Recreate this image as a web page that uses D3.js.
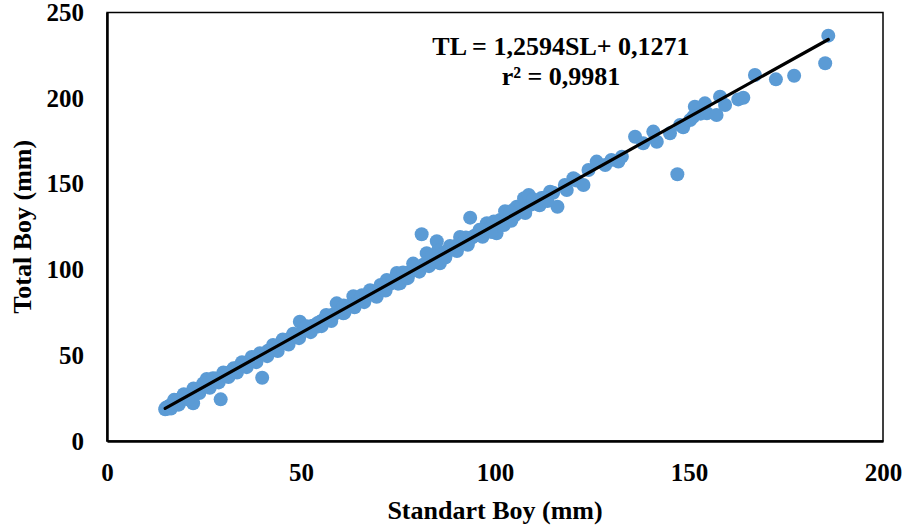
<!DOCTYPE html>
<html>
<head>
<meta charset="utf-8">
<script src="https://cdn.jsdelivr.net/npm/d3@7"></script>
<style>
  html, body { margin: 0; padding: 0; background: #fff; }
  svg text { font-family: "Liberation Serif", "Times New Roman", serif; font-weight: bold; fill: #000; }
</style>
</head>
<body>
<div id="graph"></div>
<script>
// Standart boy (SL, mm) of each fish
const standardLength = [
  15.0, 15.2, 15.5, 15.8, 16.0, 16.3, 16.6, 17.0, 17.2, 17.5,
  17.8, 18.0, 18.4, 18.8, 19.2, 19.6, 20.0, 20.5, 21.0, 21.4,
  22.2, 22.0, 22.6, 23.0, 23.5, 24.0, 24.5, 25.0, 25.7, 26.2,
  26.8, 27.5, 28.3, 28.0, 29.3, 29.0, 29.8, 30.5, 31.0, 31.6,
  32.2, 32.6, 33.2, 33.8, 34.4, 35.0, 35.6, 36.2, 36.9, 37.5,
  38.2, 38.8, 39.4, 40.0, 40.3, 41.0, 41.6, 42.3, 43.0, 43.7,
  44.4, 45.0, 45.7, 46.3, 47.0, 47.6, 48.3, 49.0, 49.7, 50.0,
  50.6, 51.2, 51.8, 52.4, 53.0, 53.6, 54.0, 54.3, 55.0, 55.6,
  56.2, 56.8, 57.4, 58.0, 58.6, 59.2, 59.8, 60.5, 60.9, 61.5,
  62.2, 62.8, 63.5, 64.0, 64.7, 65.3, 66.0, 66.6, 67.2, 67.8,
  68.4, 69.0, 69.5, 70.2, 70.8, 71.4, 72.1, 72.6, 73.2, 73.8,
  74.4, 74.7, 75.5, 76.0, 76.6, 77.2, 77.8, 78.4, 78.9, 79.5,
  80.1, 80.7, 81.1, 81.5, 82.0, 82.4, 82.8, 83.4, 84.0, 84.5,
  85.0, 85.3, 85.8, 86.3, 86.9, 87.5, 88.1, 88.7, 89.3, 89.9,
  90.5, 91.0, 91.6, 92.2, 92.8, 93.6, 93.4, 94.0, 94.6, 95.2,
  95.8, 96.4, 97.0, 97.9, 98.2, 98.7, 99.3, 100.0, 100.4, 100.8,
  101.3, 101.9, 102.6, 103.2, 103.8, 104.7, 105.2, 105.6, 106.2, 106.9,
  107.5, 108.0, 108.7, 109.3, 110.0, 110.5, 111.2, 112.0, 112.8, 114.2,
  115.0, 116.1, 118.0, 118.5, 120.2, 121.0, 122.8, 124.1, 126.2, 128.4,
  130.0, 131.8, 132.7, 136.1, 138.2, 140.8, 141.7, 145.1, 147.0, 147.7,
  148.5, 150.3, 151.5, 151.1, 153.0, 154.1, 154.6, 157.1, 158.0, 159.3,
  162.7, 164.0, 167.0, 172.4, 177.1, 185.1, 185.9,
  16.5, 18.5, 20.8, 23.8, 26.5, 28.8, 31.3, 33.5, 36.0, 38.5,
  41.3, 44.0, 46.8, 49.5, 52.5, 55.3, 57.8, 61.2, 63.8, 66.3,
  69.3, 71.8, 75.0, 77.5, 80.5, 83.0, 87.2, 90.2, 93.0, 96.8,
  99.0, 102.3, 104.2, 107.8, 111.5, 113.5,
  17.3, 19.8, 22.3, 24.8, 27.3, 30.0, 34.8, 37.3, 42.8, 45.3,
  48.0, 51.5, 56.5, 61.0, 65.7, 70.5, 76.3, 79.2, 83.8, 88.4,
  92.5, 96.0, 99.7, 104.0, 109.8
];

// Total boy (TL, mm) of the same fish
const totalLength = [
  18.5, 19.4, 18.8, 20.1, 19.6, 20.8, 21.0, 21.9, 20.9, 22.6,
  22.3, 23.9, 23.0, 24.2, 24.5, 25.3, 26.0, 25.6, 26.9, 27.5,
  22.0, 28.1, 28.6, 29.4, 29.8, 30.9, 31.0, 31.8, 36.2, 33.1,
  34.0, 35.0, 35.8, 36.5, 24.3, 36.6, 37.8, 38.6, 39.4, 40.0,
  40.9, 42.4, 42.0, 43.0, 43.6, 44.6, 45.0, 46.0, 46.3, 47.6,
  48.6, 49.0, 51.2, 36.9, 50.8, 51.7, 52.8, 53.1, 54.5, 53.1,
  56.2, 57.0, 57.4, 57.9, 59.6, 60.0, 61.3, 61.5, 69.6, 63.0,
  64.2, 64.8, 65.6, 66.4, 67.3, 67.6, 66.7, 68.9, 69.6, 70.5,
  71.2, 71.6, 72.9, 73.5, 74.0, 80.3, 75.4, 76.4, 74.5, 77.8,
  78.6, 79.0, 84.5, 80.6, 81.8, 82.0, 83.6, 84.0, 84.8, 88.0,
  86.4, 87.2, 84.2, 88.6, 89.0, 90.1, 94.0, 91.4, 92.0, 93.3,
  93.6, 98.0, 92.0, 96.0, 96.4, 97.6, 98.0, 99.0, 103.5, 100.0,
  101.2, 101.5, 120.6, 102.8, 103.0, 109.5, 104.5, 105.0, 106.3, 108.0,
  116.5, 111.0, 103.7, 109.0, 109.6, 110.6, 111.0, 112.2, 112.5, 113.6,
  114.5, 119.0, 115.2, 116.5, 117.0, 130.3, 118.2, 118.6, 119.6, 120.0,
  121.2, 121.6, 122.5, 127.0, 123.8, 124.5, 125.3, 125.8, 121.2, 127.2,
  128.9, 128.5, 134.0, 130.0, 130.8, 134.8, 131.8, 136.7, 133.8, 137.7,
  141.6, 136.0, 143.5, 138.0, 138.7, 139.8, 140.2, 141.8, 142.0, 145.4,
  144.8, 136.7, 149.4, 146.4, 153.3, 152.0, 149.4, 158.1, 163.0, 161.0,
  164.0, 163.0, 165.9, 177.5, 173.7, 180.5, 174.6, 179.5, 155.6, 184.4,
  183.0, 187.3, 195.0, 189.2, 191.0, 197.0, 191.2, 190.2, 200.9, 196.0,
  199.3, 200.3, 213.5, 211.0, 213.1, 220.4, 236.5,
  19.0, 21.2, 24.3, 28.0, 31.0, 34.2, 37.3, 40.0, 43.1, 46.0,
  49.5, 52.5, 56.3, 60.0, 63.5, 67.0, 70.0, 74.8, 78.0, 81.0,
  84.6, 87.8, 91.8, 95.0, 98.8, 102.0, 107.0, 110.8, 114.5, 119.2,
  122.0, 126.0, 128.5, 133.0, 137.5, 140.0,
  24.0, 27.3, 30.6, 33.6, 36.6, 40.0, 46.0, 49.0, 56.0, 59.2,
  62.6, 67.0, 73.5, 79.0, 85.0, 91.0, 98.3, 101.8, 107.8, 113.8,
  118.8, 123.2, 128.0, 133.3, 141.0
];

// Fitted trend line: TL = 1,2594 SL + 0,1271
const slope = 1.2594;
const intercept = 0.1271;
const equationLines = ["TL = 1,2594SL+ 0,1271", "r² = 0,9981"];

const xTicks = [0, 50, 100, 150, 200];
const yTicks = [0, 50, 100, 150, 200, 250];

const width = 907;
const height = 532;
const margin = { top: 12.5, right: 24, bottom: 91, left: 107 };
const innerWidth = width - margin.left - margin.right;
const innerHeight = height - margin.top - margin.bottom;

const svg = d3
  .select("#graph")
  .append("svg")
  .attr("width", width)
  .attr("height", height);

const chart = svg
  .append("g")
  .attr("transform", `translate(${margin.left}, ${margin.top})`);

const x = d3.scaleLinear().domain([0, 200]).range([0, innerWidth]);
const y = d3.scaleLinear().domain([0, 250]).range([innerHeight, 0]);

// Plot area frame
chart
  .append("rect")
  .attr("width", innerWidth)
  .attr("height", innerHeight)
  .style("fill", "none")
  .style("stroke", "#000")
  .style("stroke-width", 1.5);

// Axes: no tick marks, only labels
const xAxis = chart
  .append("g")
  .attr("transform", `translate(0, ${innerHeight})`)
  .call(d3.axisBottom(x).tickValues(xTicks).tickSize(0).tickPadding(22));
const yAxis = chart
  .append("g")
  .call(d3.axisLeft(y).tickValues(yTicks).tickSize(0).tickPadding(23));

[xAxis, yAxis].forEach(axis => {
  axis.select(".domain").style("stroke", "#000").style("stroke-width", 2.5);
  axis
    .selectAll("text")
    .style("font-family", '"Liberation Serif", "Times New Roman", serif')
    .style("font-weight", "bold")
    .style("font-size", "25px");
});

// Scatter points
const points = standardLength.map((sl, i) => ({ sl, tl: totalLength[i] }));
chart
  .selectAll(".dot")
  .data(points)
  .enter()
  .append("circle")
  .attr("class", "dot")
  .attr("cx", d => x(d.sl))
  .attr("cy", d => y(d.tl))
  .attr("r", 7)
  .style("fill", "#5B9BD5");

// Linear trend line across the data range
const [slMin, slMax] = d3.extent(standardLength);
chart
  .append("line")
  .attr("x1", x(slMin))
  .attr("y1", y(slope * slMin + intercept))
  .attr("x2", x(slMax))
  .attr("y2", y(slope * slMax + intercept))
  .style("stroke", "#000")
  .style("stroke-width", 3.2)
  .style("stroke-linecap", "round");

// Equation label
const eq = chart
  .append("text")
  .attr("x", x(117))
  .attr("y", y(225))
  .attr("text-anchor", "middle")
  .style("font-size", "26px");
eq.selectAll("tspan")
  .data(equationLines)
  .enter()
  .append("tspan")
  .attr("x", x(117))
  .attr("dy", (d, i) => (i === 0 ? 0 : 30))
  .text(d => d);

// Axis titles
svg
  .append("text")
  .attr("x", margin.left + innerWidth / 2)
  .attr("y", 519)
  .attr("text-anchor", "middle")
  .style("font-size", "26px")
  .text("Standart Boy (mm)");

svg
  .append("text")
  .attr("transform", `translate(31, ${margin.top + innerHeight / 2}) rotate(-90)`)
  .attr("text-anchor", "middle")
  .style("font-size", "26px")
  .text("Total Boy (mm)");
</script>
</body>
</html>
